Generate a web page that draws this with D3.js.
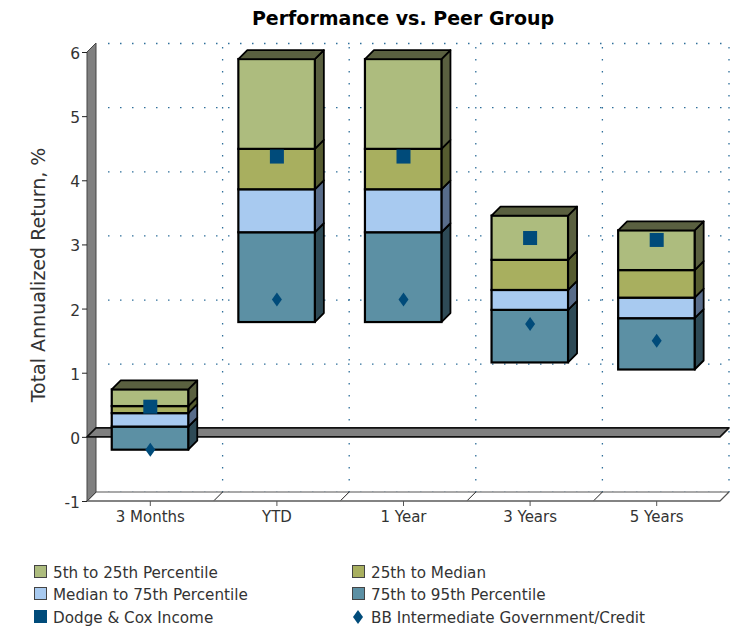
<!DOCTYPE html>
<html><head><meta charset="utf-8">
<script src="https://cdn.jsdelivr.net/npm/d3@7"></script>
<style>html,body{margin:0;padding:0;background:#fff}svg{display:block}text{font-family:"DejaVu Sans",Verdana,sans-serif}</style>
</head><body><svg id="c" width="733" height="626"></svg>
<script>
const categories=["3 Months","YTD","1 Year","3 Years","5 Years"];
const top5=[0.74,5.89,5.89,3.45,3.22];
const p25=[0.48,4.49,4.49,2.76,2.60];
const median=[0.37,3.86,3.86,2.29,2.17];
const p75=[0.16,3.19,3.19,1.98,1.85];
const p95=[-0.2,1.79,1.79,1.16,1.05];
const dodge=[0.47,4.37,4.37,3.10,3.07];
const bb=[-0.2,2.14,2.14,1.76,1.50];
const yTicks=[-1,0,1,2,3,4,5,6];
const seriesNames=["5th to 25th Percentile","25th to Median","Median to 75th Percentile","75th to 95th Percentile","Dodge & Cox Income","BB Intermediate Government/Credit"];
const fills=["#adbc7e","#a8af5f","#a8caf0","#5c90a4"];
const sides=["#5a6040","#565c30","#586c8a","#2e4a56"];
const markColor="#004b7a", textColor="#333";

const svg=d3.select("#c");
const D=9;
const x=d3.scaleBand().domain(categories).range([87,720]);
const y=d3.scaleLinear().domain([-1,6]).range([501,52]);
const poly=(pts,fill,stroke,sw)=>svg.append("polygon").attr("points",pts.map(p=>p.join(",")).join(" "))
  .attr("fill",fill).attr("stroke",stroke||"none").attr("stroke-width",sw||0).attr("stroke-linejoin","round");
const x0=x.range()[0],x1=x.range()[1];

// grid on back plane
const grid=svg.append("g").attr("stroke","#2f6f9a").attr("stroke-width",1.3).attr("stroke-dasharray","1.5 10.5");
yTicks.filter(v=>v!==0).forEach(v=>grid.append("line").attr("x1",x0+D+12).attr("x2",x1+D).attr("y1",y(v)-D+.5).attr("y2",y(v)-D+.5));
categories.forEach(c=>{const gx=x(c)+x.bandwidth()+D;
  grid.append("line").attr("x1",gx).attr("x2",gx).attr("y1",y(6)-D+4).attr("y2",y(-1)-D);});

// floor
poly([[x0,y(-1)],[x0+D,y(-1)-D],[x1+D,y(-1)-D],[x1,y(-1)]],"#fff","#555",1.2);
categories.slice(0,4).forEach(c=>{const gx=x(c)+x.bandwidth();
  svg.append("line").attr("x1",gx).attr("y1",y(-1)).attr("x2",gx+D).attr("y2",y(-1)-D).attr("stroke","#222").attr("stroke-width",1);});
svg.append("line").attr("x1",x0).attr("x2",x1).attr("y1",y(-1)).attr("y2",y(-1)).attr("stroke","#777").attr("stroke-width",1.4);

// left wall
poly([[x0,y(6)],[x0+D,y(6)-D],[x0+D,y(-1)-D],[x0,y(-1)]],"#808080","#444",1);

// zero plane
poly([[x0,y(0)],[x0+D,y(0)-D],[x1+D,y(0)-D],[x1,y(0)]],"#808080","#111",1.6);

// bars
const stacks=[top5,p25,median,p75,p95];
const bw=76.5;
categories.forEach((c,i)=>{
  const l=x(c)+x.bandwidth()/2-bw/2-.3, r=l+bw;
  for(let s=3;s>=0;s--){
    const t=y(stacks[s][i]),b=y(stacks[s+1][i]);
    poly([[r,t],[r+D,t-D],[r+D,b-D],[r,b]],sides[s],"#000",1.8);
    svg.append("rect").attr("x",l).attr("y",t).attr("width",bw).attr("height",b-t).attr("fill",fills[s]).attr("stroke","#000").attr("stroke-width",2.2);
  }
  const t=y(top5[i]);
  poly([[l,t],[l+D,t-D],[r+D,t-D],[r,t]],sides[0],"#000",1.8);
});

// markers
const cx=c=>x(c)+x.bandwidth()/2;
const diamond=(g,px,py,w,h)=>g.append("polygon").attr("points",[[px,py-h],[px+w,py],[px,py+h],[px-w,py]].map(p=>p.join(",")).join(" ")).attr("fill",markColor);
categories.forEach((c,i)=>{
  svg.append("rect").attr("x",cx(c)-7).attr("y",y(dodge[i])-7).attr("width",14).attr("height",14).attr("fill",markColor);
  diamond(svg,cx(c),y(bb[i]),5,7);
});

// axes
const ay=svg.append("g").attr("transform",`translate(${x0},1.5)`).call(d3.axisLeft(y).tickValues(yTicks).tickFormat(d=>String(d)).tickSize(5).tickPadding(2));
ay.select(".domain").remove();
ay.selectAll("line").attr("stroke","#222").attr("transform","translate(0,-1.5)");
ay.selectAll("text").attr("font-size",15.5).attr("fill",textColor).attr("font-family","DejaVu Sans");
const ax=svg.append("g").attr("transform",`translate(0,${y(-1)})`).call(d3.axisBottom(x).tickSize(5).tickPadding(5));
ax.select(".domain").remove();
ax.selectAll("line").attr("stroke","#555");
ax.selectAll("text").attr("font-size",15).attr("fill",textColor).attr("font-family","DejaVu Sans");

// titles
svg.append("text").attr("x",403).attr("y",25).attr("text-anchor","middle").attr("font-size",19).attr("font-weight","bold").attr("fill","#000").text("Performance vs. Peer Group");
svg.append("text").attr("transform","translate(45,275) rotate(-90)").attr("text-anchor","middle").attr("font-size",19).attr("fill",textColor).text("Total Annualized Return, %");

// legend
const rowY=[572,594,617], colX=[34,352];
seriesNames.forEach((n,i)=>{
  const lx=colX[i%2], ly=rowY[Math.floor(i/2)];
  if(i<4) svg.append("rect").attr("x",lx+.5).attr("y",ly-6.5).attr("width",12).attr("height",12).attr("fill",fills[i]).attr("stroke","#444").attr("stroke-width",1);
  else if(i===4) svg.append("rect").attr("x",lx).attr("y",ly-7).attr("width",13).attr("height",13).attr("fill",markColor);
  else diamond(svg,lx+6,ly,5,7);
  svg.append("text").attr("x",i%2?371:53).attr("y",ly+6).attr("font-size",15.2).attr("fill",textColor).text(n);
});
</script></body></html>
